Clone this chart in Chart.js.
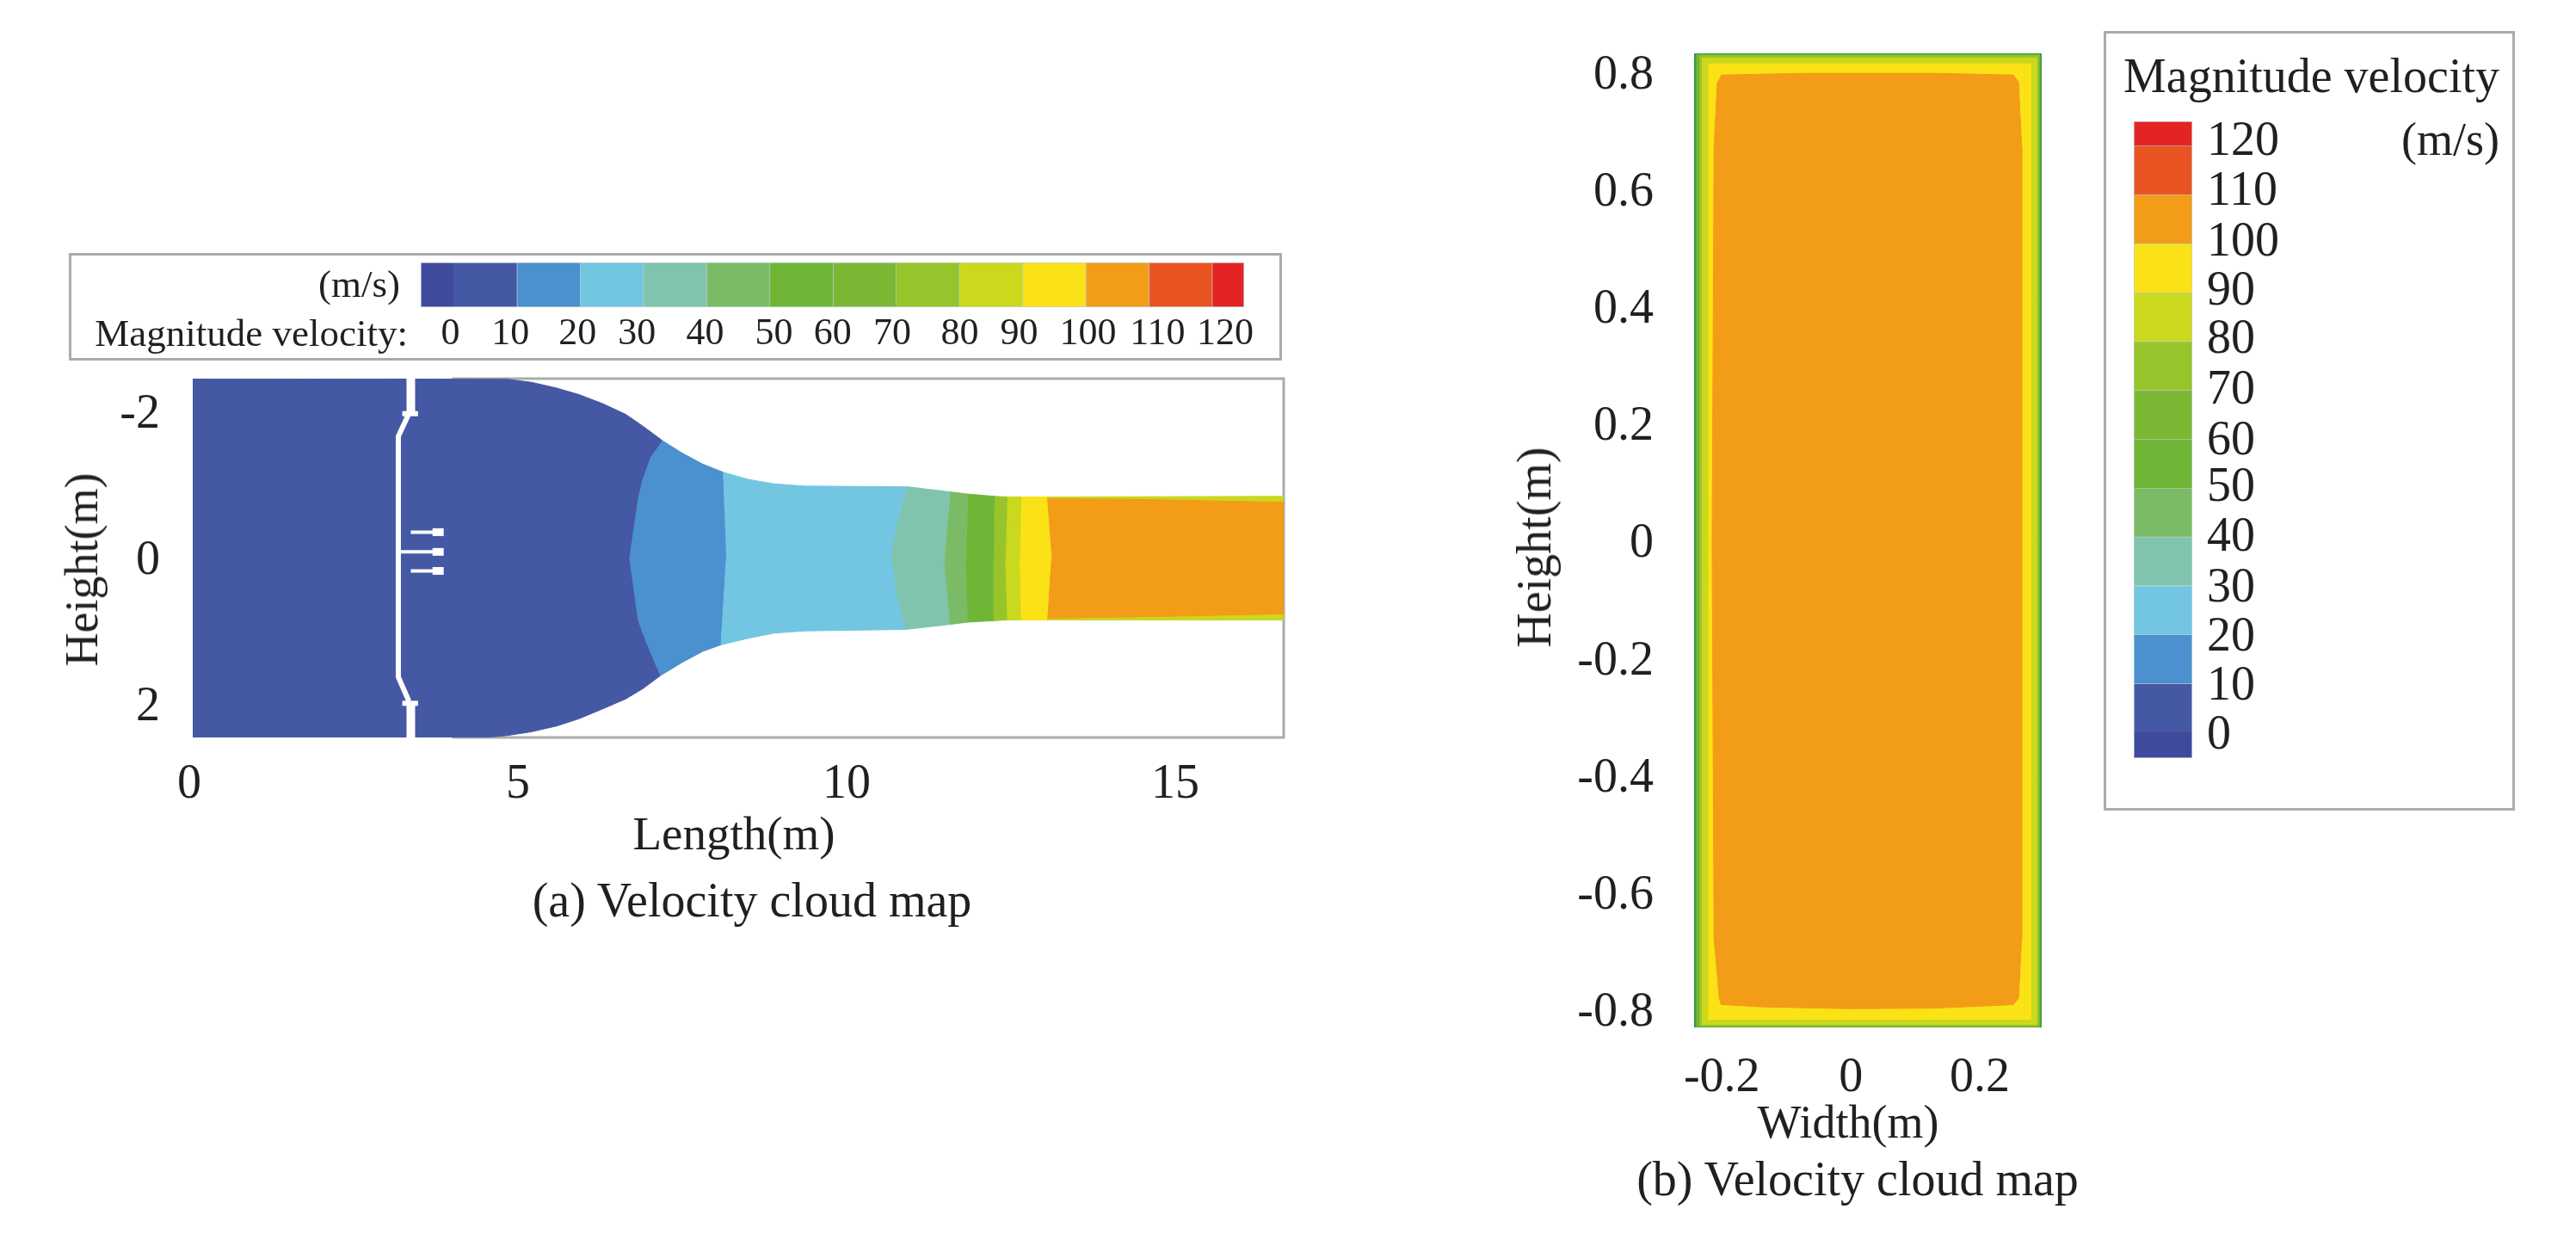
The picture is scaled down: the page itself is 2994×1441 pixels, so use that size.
<!DOCTYPE html>
<html>
<head>
<meta charset="utf-8">
<title>Velocity cloud map</title>
<script src="https://cdn.jsdelivr.net/npm/chart.js@4/dist/chart.umd.min.js"></script>
<style>
	html, body { margin: 0; padding: 0; background: #fff; }
	#page { position: relative; width: 2994px; height: 1441px; overflow: hidden; }
	canvas { position: absolute; left: 0; top: 0; }
	.box { position: absolute; box-sizing: border-box; border: 3px solid #ababab; }
	.txt { position: absolute; white-space: nowrap; color: #231f20; font-family: "Liberation Serif", serif; line-height: 1; }
</style>
</head>
<body>
<div id="page">
	<div class="box" style="left:80px;top:294px;width:1410px;height:125px"></div>
	<div class="box" style="left:2445px;top:36px;width:478px;height:906px"></div>
	<canvas id="sideChart" width="2994" height="1441"></canvas>
	<canvas id="crossChart" width="2994" height="1441"></canvas>
	<canvas id="sideBar" width="2994" height="1441"></canvas>
	<canvas id="crossBar" width="2994" height="1441"></canvas>
</div>
<script>
// colour bar
var bandFrom = [-5.3, 0, 10, 20, 30, 40, 50, 60, 70, 80, 90, 100, 110, 120];
var bandTo = [0, 10, 20, 30, 40, 50, 60, 70, 80, 90, 100, 110, 120, 125];
var bandColors = ['#3f4a9d', '#4558a4', '#4b90cf', '#72c6e2', '#80c4ad', '#7bbb65', '#6fb536', '#7ab833', '#98c42b', '#cad81e', '#fbe216', '#f39c17', '#ea5423', '#e42324'];
var barLabels = ['0', '10', '20', '30', '40', '50', '60', '70', '80', '90', '100', '110', '120'];
var sideBarLabelAt = [-0.6, 8.9, 19.5, 28.9, 39.7, 50.6, 59.9, 69.3, 80, 89.4, 100.3, 111.3, 122];
var crossBarLabelAt = [-0.3, 9.8, 19.9, 29.9, 40.2, 50.5, 60, 70.3, 80.7, 90.6, 100.7, 111, 121.3];

// side view, (a): x = length, y = height
var sideXTicks = [0, 5, 10, 15];
var sideYTicks = [-2, 0, 2];
var sideZone0 = [[0.052, -2.459], [4.84, -2.45], [5.2, -2.41], [5.59, -2.33], [5.93, -2.24], [6.28, -2.12], [6.64, -1.97], [6.9, -1.81], [7.2, -1.61], [7.03, -1.4], [6.9, -1.08], [6.83, -0.81], [6.7, 0], [6.83, 0.84], [6.91, 1.04], [7.03, 1.31], [7.17, 1.6], [6.9, 1.78], [6.64, 1.92], [6.28, 2.06], [5.93, 2.19], [5.59, 2.29], [5.2, 2.37], [4.84, 2.42], [4.5, 2.447], [0.052, 2.447]];
var sideZone10 = [[7.2, -1.61], [7.5, -1.44], [7.81, -1.29], [8.12, -1.18], [8.17, 0], [8.09, 1.18], [7.81, 1.27], [7.5, 1.42], [7.17, 1.6], [7.03, 1.31], [6.91, 1.04], [6.83, 0.84], [6.7, 0], [6.83, -0.81], [6.9, -1.08], [7.03, -1.4]];
var sideZone20 = [[8.12, -1.18], [8.51, -1.08], [8.9, -1.02], [9.36, -0.99], [10.93, -0.98], [10.77, -0.49], [10.69, 0], [10.77, 0.49], [10.9, 0.97], [9.36, 0.99], [8.9, 1.02], [8.51, 1.09], [8.09, 1.18], [8.17, 0]];
var sideZone30 = [[10.93, -0.98], [11.58, -0.91], [11.49, 0], [11.58, 0.9], [10.9, 0.97], [10.77, 0.49], [10.69, 0], [10.77, -0.49]];
var sideZone40 = [[11.58, -0.91], [11.85, -0.88], [11.82, 0], [11.85, 0.87], [11.58, 0.9], [11.49, 0]];
var sideZone50 = [[11.85, -0.88], [12.25, -0.85], [12.24, 0], [12.25, 0.85], [11.85, 0.87], [11.82, 0]];
var sideZone70 = [[12.25, -0.85], [12.45, -0.84], [12.42, 0], [12.45, 0.84], [12.25, 0.85], [12.24, 0]];
var sideZone80 = [[12.45, -0.84], [12.66, -0.84], [12.64, 0], [12.66, 0.84], [12.45, 0.84], [12.42, 0]];
var sideZone90 = [[12.66, -0.84], [13.05, -0.84], [13.12, 0], [13.06, 0.84], [12.66, 0.84], [12.64, 0]];
var sideStripTop = [[13.05, -0.84], [16.65, -0.85], [16.65, -0.78], [14.5, -0.82], [13.05, -0.83]];
var sideStripBottom = [[13.06, 0.83], [14.5, 0.81], [16.65, 0.77], [16.65, 0.84], [13.06, 0.84]];
var sideZone100 = [[13.05, -0.83], [14.5, -0.82], [16.65, -0.78], [16.65, 0.77], [14.5, 0.81], [13.06, 0.83], [13.12, 0]];
var sideFrame = [[4, -2.459], [16.65, -2.459], [16.65, 2.447], [4, 2.447]];

// support inside the duct, (a)
var wallUpper = [[3.37, -2.459], [3.37, -2]];
var wallLower = [[3.37, 1.96], [3.37, 2.447]];
var flangeUpper = [[3.24, -1.98], [3.48, -1.98]];
var flangeLower = [[3.24, 1.98], [3.48, 1.98]];
var wallMiddle = [[3.34, -1.98], [3.18, -1.67], [3.18, 1.62], [3.34, 1.95]];
var stemUpper = [[3.37, -0.36], [3.86, -0.36]];
var stemMiddle = [[3.2, -0.09], [3.86, -0.09]];
var stemLower = [[3.37, 0.17], [3.86, 0.17]];
var headUpper = [[3.7, -0.36], [3.87, -0.36]];
var headMiddle = [[3.7, -0.09], [3.87, -0.09]];
var headLower = [[3.7, 0.17], [3.87, 0.17]];

// cross section, (b): x = width, y = height
var crossXTicks = [-0.2, 0, 0.2];
var crossYTicks = [-0.8, -0.6, -0.4, -0.2, 0, 0.2, 0.4, 0.6, 0.8];
var crossEdge = [[-0.243, 0.834], [0.296, 0.834], [0.296, -0.829], [-0.243, -0.829]];
var crossZone50 = [[-0.24, 0.832], [0.293, 0.832], [0.293, -0.828], [-0.24, -0.828]];
var crossZone70 = [[-0.235, 0.83], [0.291, 0.83], [0.291, -0.826], [-0.235, -0.826]];
var crossZone80 = [[-0.231, 0.826], [0.288, 0.826], [0.288, -0.824], [-0.231, -0.824]];
var crossZone90 = [[-0.221, 0.816], [0.279, 0.816], [0.279, -0.815], [-0.221, -0.815]];
var crossZone100 = [[-0.201, 0.797], [-0.068, 0.8], [0.132, 0.8], [0.252, 0.797], [0.26, 0.785], [0.265, 0.675], [0.265, 0], [0.265, -0.677], [0.26, -0.779], [0.252, -0.79], [0.132, -0.796], [-0.001, -0.797], [-0.135, -0.794], [-0.201, -0.79], [-0.204, -0.779], [-0.212, -0.677], [-0.215, 0], [-0.212, 0.675], [-0.207, 0.785]];

var textColor = '#231f20';
var serif = 'Liberation Serif';
var white = '#ffffff';

function xy(list)
{
	return list.map(function(p){ return {x: p[0], y: p[1]}; });
}

// padding that puts the plot area at this rectangle, room is left for the axes
function area(left, top, right, bottom, leftRoom, bottomRoom, rightRoom)
{
	return {left: left - leftRoom, top: top, right: 2994 - right - rightRoom, bottom: 1441 - bottom - bottomRoom};
}

function shape(list, color)
{
	return {data: xy(list), showLine: true, fill: 'shape', backgroundColor: color, borderColor: color, borderWidth: 1, pointRadius: 0};
}

function stroke(list, color, width)
{
	return {data: xy(list), showLine: true, fill: false, borderColor: color, borderWidth: width, pointRadius: 0, clip: false};
}

// first dataset is at the bottom
function layered(list)
{
	return list.map(function(d, i){ d.order = list.length - i; return d; });
}

function axis(min, max, ticks, labels, padding, size, room, reverse, shift)
{
	return {
		type: 'linear',
		min: min,
		max: max,
		bounds: 'data',
		reverse: !!reverse,
		grid: {display: false, drawTicks: false},
		border: {display: false},
		afterBuildTicks: function(scale){
			scale.ticks = ticks.map(function(v){ return {value: v}; });
		},
		afterFit: function(scale){
			if(scale.isHorizontal()){ scale.height = room; } else { scale.width = room; }
			// tick padding otherwise pushes the plot area in
			scale.paddingTop = scale.paddingBottom = scale.paddingLeft = scale.paddingRight = 0;
		},
		ticks: {
			autoSkip: false,
			maxRotation: 0,
			padding: padding,
			labelOffset: shift || 0,
			color: textColor,
			font: {family: serif, size: size},
			callback: function(value, index){ return labels ? labels[index] : String(value); }
		}
	};
}

function baseOptions(pad, scales)
{
	return {
		responsive: false,
		animation: false,
		devicePixelRatio: 1,
		layout: {padding: pad, autoPadding: false},
		plugins: {legend: {display: false}, tooltip: {enabled: false}},
		scales: scales
	};
}

function bandSets()
{
	return bandFrom.map(function(from, i){
		return {
			data: [[from, bandTo[i]]],
			backgroundColor: bandColors[i],
			borderColor: 'rgba(0, 70, 60, .25)',
			borderWidth: 1,
			grouped: false,
			barPercentage: 1,
			categoryPercentage: 1
		};
	});
}

function hiddenAxis()
{
	return {type: 'category', display: false};
}

new Chart(document.getElementById('sideChart').getContext('2d'), {
	type: 'scatter',
	data: {datasets: layered([
		stroke(sideFrame, '#ababab', 3),
		shape(sideZone0, bandColors[1]),
		shape(sideZone10, bandColors[2]),
		shape(sideZone20, bandColors[3]),
		shape(sideZone30, bandColors[4]),
		shape(sideZone40, bandColors[5]),
		shape(sideZone50, bandColors[6]),
		shape(sideZone70, bandColors[8]),
		shape(sideZone80, bandColors[9]),
		shape(sideZone90, bandColors[10]),
		shape(sideZone100, bandColors[11]),
		shape(sideStripTop, bandColors[9]),
		shape(sideStripBottom, bandColors[9]),
		stroke(wallUpper, white, 10),
		stroke(wallLower, white, 10),
		stroke(flangeUpper, white, 6),
		stroke(flangeLower, white, 6),
		stroke(wallMiddle, white, 6),
		stroke(stemUpper, white, 4),
		stroke(stemMiddle, white, 4),
		stroke(stemLower, white, 4),
		stroke(headUpper, white, 9),
		stroke(headMiddle, white, 9),
		stroke(headLower, white, 9)
	])},
	options: baseOptions(area(224, 440, 1492, 857, 120, 110, 0), {
		x: axis(0.052, 16.65, sideXTicks, null, 22, 56, 110),
		y: axis(-2.459, 2.447, sideYTicks, null, 38, 56, 120, true, 3)
	})
});

new Chart(document.getElementById('crossChart').getContext('2d'), {
	type: 'scatter',
	data: {datasets: layered([
		shape(crossEdge, '#3a9a3e'),
		shape(crossZone50, bandColors[6]),
		shape(crossZone70, bandColors[8]),
		shape(crossZone80, bandColors[9]),
		shape(crossZone90, bandColors[10]),
		shape(crossZone100, bandColors[11])
	])},
	options: baseOptions(area(1969, 62, 2373, 1194, 200, 110, 0), {
		x: axis(-0.243, 0.296, crossXTicks, null, 26, 56, 110),
		y: axis(-0.829, 0.834, crossYTicks, null, 47, 56, 200, false, 3)
	})
});

new Chart(document.getElementById('sideBar').getContext('2d'), {
	type: 'bar',
	data: {labels: ['velocity'], datasets: bandSets()},
	options: Object.assign(baseOptions(area(489, 305, 1446, 357, 0, 60, 0), {
		x: axis(-5.3, 125, sideBarLabelAt, barLabels, 5, 44, 60),
		y: hiddenAxis()
	}), {indexAxis: 'y'})
});

new Chart(document.getElementById('crossBar').getContext('2d'), {
	type: 'bar',
	data: {labels: ['velocity'], datasets: bandSets()},
	options: baseOptions(area(2480, 141, 2548, 881, 0, 0, 150), {
		x: hiddenAxis(),
		y: Object.assign(axis(-5.3, 125, crossBarLabelAt, barLabels, 17, 56, 150, false, 3), {position: 'right'})
	})
});

// text around the plots
function label(text, x, y, size, turn, anchor)
{
	var el = document.createElement('div');
	el.className = 'txt';
	el.textContent = text;
	el.style.fontSize = size + 'px';
	el.style.left = x + 'px';
	el.style.top = y + 'px';
	el.style.transform = 'translate(' + (anchor === 'right' ? '-100%' : '-50%') + ', -50%)' + (turn ? ' rotate(-90deg)' : '');
	document.getElementById('page').appendChild(el);
}

label('(m/s)', 465, 330, 45, false, 'right');
label('Magnitude velocity:', 474, 387, 45, false, 'right');
label('Length(m)', 853, 968, 55);
label('(a) Velocity cloud map', 874, 1046, 56);
label('Height(m)', 95, 662, 54, true);
label('Height(m)', 1783, 636, 56, true);
label('Width(m)', 2148, 1304, 54);
label('(b) Velocity cloud map', 2159, 1370, 56);
label('Magnitude velocity', 2905, 88, 56, false, 'right');
label('(m/s)', 2905, 162, 54, false, 'right');
</script>
</body>
</html>
